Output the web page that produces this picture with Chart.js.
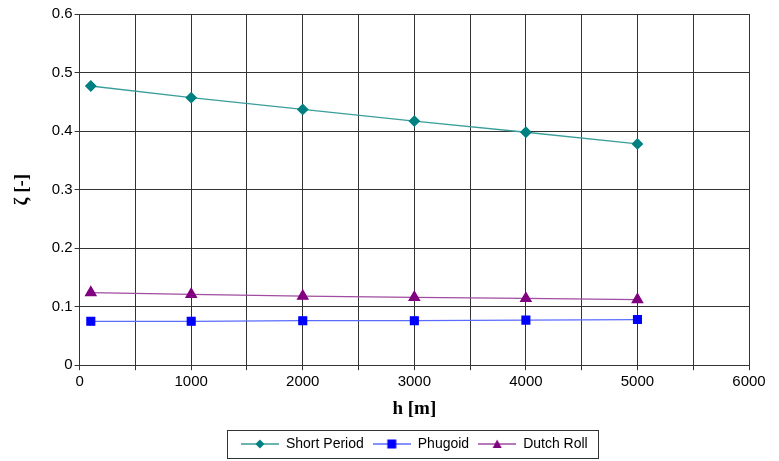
<!DOCTYPE html>
<html>
<head>
<meta charset="utf-8">
<script src="https://cdn.jsdelivr.net/npm/chart.js@4.4.1/dist/chart.umd.min.js"></script>
<style>
  html, body { margin: 0; padding: 0; background: #fff; }
  #wrap { width: 779px; height: 461px; }
</style>
</head>
<body>
<div id="wrap"><canvas id="zeta"></canvas></div>
<script>
// --- data ---
const altitudes = [100, 1000, 2000, 3000, 4000, 5000];
const shortPeriod = [0.477, 0.457, 0.437, 0.417, 0.398, 0.378];
const phugoid = [0.075, 0.075, 0.076, 0.076, 0.077, 0.078];
const dutchRoll = [0.124, 0.121, 0.118, 0.116, 0.114, 0.112];
const xTicks = [0, 1000, 2000, 3000, 4000, 5000, 6000];
const yTicks = [0, 0.1, 0.2, 0.3, 0.4, 0.5, 0.6];

const pts = ys => altitudes.map((x, i) => ({ x: x, y: ys[i] }));
const sans = 'Liberation Sans, Arial, sans-serif';
const serif = 'Liberation Serif, Times New Roman, serif';

// legend swatch: short line with the marker in the middle
function swatch(color, lineColor, shape) {
    const c = document.createElement('canvas');
    c.width = 38; c.height = 12;
    const g = c.getContext('2d');
    g.strokeStyle = lineColor; g.lineWidth = 1.5;
    g.beginPath(); g.moveTo(0, 6); g.lineTo(38, 6); g.stroke();
    g.fillStyle = color;
    g.beginPath();
    if (shape === 'diamond') {
        g.moveTo(19, 1.5); g.lineTo(23.5, 6); g.lineTo(19, 10.5); g.lineTo(14.5, 6);
    } else if (shape === 'square') {
        g.rect(14.5, 1.5, 9, 9);
    } else {
        g.moveTo(19, 1.5); g.lineTo(23.5, 10); g.lineTo(14.5, 10);
    }
    g.closePath(); g.fill();
    return c;
}

const legendBorder = {
    id: 'legendBorder',
    afterDraw(chart) {
        const lg = chart.legend;
        if (!lg || !lg.legendHitBoxes.length) return;
        const boxes = lg.legendHitBoxes;
        const x0 = Math.min(...boxes.map(b => b.left)) - 14;
        const x1 = Math.max(...boxes.map(b => b.left + b.width)) + 10;
        const y0 = boxes[0].top - 7;
        const y1 = boxes[0].top + boxes[0].height + 7;
        const ctx = chart.ctx;
        ctx.save();
        ctx.strokeStyle = '#333';
        ctx.lineWidth = 1;
        ctx.strokeRect(Math.round(x0) + 0.5, Math.round(y0) + 0.5, Math.round(x1 - x0), Math.round(y1 - y0));
        ctx.restore();
    }
};

const ctx = document.getElementById('zeta').getContext('2d');
new Chart(ctx, {
    type: 'line',
    data: {
        datasets: [
            {
                label: 'Short Period',
                data: pts(shortPeriod),
                borderColor: '#3a9e9a',
                backgroundColor: '#008080',
                pointBackgroundColor: '#008080',
                pointBorderColor: '#008080',
                pointStyle: 'rectRot',
                pointRadius: 5,
                borderWidth: 1.3,
                legendSwatch: swatch('#008080', '#3a9e9a', 'diamond')
            },
            {
                label: 'Phugoid',
                data: pts(phugoid),
                borderColor: '#5a6cff',
                backgroundColor: '#0000ff',
                pointBackgroundColor: '#0000ff',
                pointBorderColor: '#0000ff',
                pointStyle: 'rect',
                pointRadius: 5.5,
                borderWidth: 1.3,
                legendSwatch: swatch('#0000ff', '#5a6cff', 'square')
            },
            {
                label: 'Dutch Roll',
                data: pts(dutchRoll),
                borderColor: '#a04ca0',
                backgroundColor: '#800080',
                pointBackgroundColor: '#800080',
                pointBorderColor: '#800080',
                pointStyle: 'triangle',
                pointRadius: 6,
                borderWidth: 1.3,
                legendSwatch: swatch('#800080', '#a04ca0', 'triangle')
            }
        ]
    },
    options: {
        responsive: true,
        maintainAspectRatio: false,
        animation: false,
        layout: { padding: { left: 11, right: 30, top: 14, bottom: 0 } },
        plugins: {
            legend: {
                position: 'bottom',
                fullSize: false,
                labels: {
                    usePointStyle: true,
                    pointStyleWidth: 38,
                    padding: 9,
                    color: '#000',
                    font: { family: sans, size: 14 },
                    generateLabels(chart) {
                        return chart.data.datasets.map((ds, i) => ({
                            text: ds.label,
                            pointStyle: ds.legendSwatch,
                            fillStyle: ds.backgroundColor,
                            strokeStyle: ds.borderColor,
                            lineWidth: 0,
                            hidden: false,
                            datasetIndex: i,
                            fontColor: '#000'
                        }));
                    }
                }
            },
            tooltip: { enabled: false }
        },
        scales: {
            x: {
                type: 'linear',
                min: 0,
                max: 6000,
                ticks: {
                    stepSize: 500,
                    color: '#000',
                    padding: 3,
                    maxRotation: 0,
                    font: { family: sans, size: 15 },
                    callback: v => xTicks.includes(v) ? String(v) : ''
                },
                grid: { color: '#333', lineWidth: 1, tickLength: 5 },
                border: { color: '#333', width: 1 },
                title: {
                    display: true,
                    text: 'h [m]',
                    color: '#000',
                    padding: { top: 3, bottom: 8 },
                    font: { family: serif, size: 19, weight: 'bold' }
                }
            },
            y: {
                min: 0,
                max: 0.6,
                ticks: {
                    stepSize: 0.1,
                    color: '#000',
                    padding: 2,
                    font: { family: sans, size: 15 },
                    callback: v => {
                        const t = yTicks.find(k => Math.abs(k - v) < 1e-9);
                        return t === undefined ? '' : String(t);
                    }
                },
                grid: { color: '#333', lineWidth: 1, tickLength: 5 },
                border: { color: '#333', width: 1 },
                title: {
                    display: true,
                    text: 'ζ [-]',
                    color: '#000',
                    padding: { top: 0, bottom: 16 },
                    font: { family: serif, size: 19, weight: 'bold' }
                }
            }
        }
    },
    plugins: [legendBorder]
});
</script>
</body>
</html>
